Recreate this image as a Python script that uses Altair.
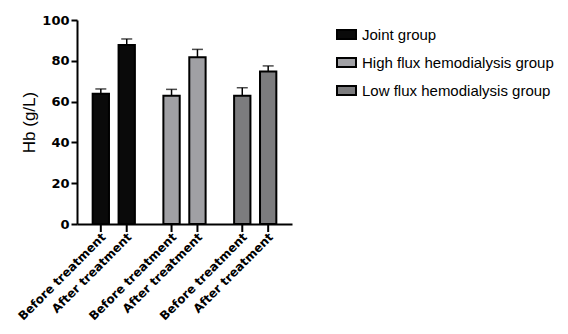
import altair as alt
import pandas as pd

groups = ["Joint group", "High flux hemodialysis group", "Low flux hemodialysis group"]
treatments = ["Before treatment", "After treatment"]
means = [63.9, 87.7, 62.9, 81.7, 62.9, 74.7]
errs = [2.3, 3.0, 3.1, 3.9, 3.9, 2.8]
colors = ["#0a0a0a", "#a0a0a4", "#7c7c7e"]

df = pd.DataFrame({
    "group": [g for g in groups for _ in treatments],
    "treatment": treatments * len(groups),
    "mean": means,
    "err": errs,
})
df["upper"] = df["mean"] + df["err"]

FONT = "Liberation Sans"
BOLD = "DejaVu Sans"

x = alt.X("group:N", sort=groups, title=None,
          scale=alt.Scale(paddingInner=0, paddingOuter=0.02),
          axis=alt.Axis(labels=False, ticks=False, grid=False))
xo = alt.XOffset("treatment:N", sort=treatments,
                 scale=alt.Scale(paddingInner=0.37, paddingOuter=0.55))
yscale = alt.Scale(domain=[0, 100], nice=False)
YT = "Hb (g/L)"

base = alt.Chart(df)

bars = base.mark_bar(stroke="black", strokeWidth=2).encode(
    x=x, xOffset=xo,
    y=alt.Y("mean:Q", scale=yscale, title=YT,
            axis=alt.Axis(values=[0, 20, 40, 60, 80, 100])),
    fill=alt.Fill("group:N", sort=groups,
                  scale=alt.Scale(domain=groups, range=colors),
                  legend=alt.Legend(title=None, orient="none", legendX=259, legendY=4,
                                    symbolType="M-1,-0.47H1V0.47H-1Z", symbolSize=361,
                                    symbolStrokeColor="black", symbolStrokeWidth=2,
                                    labelFont=FONT, labelFontSize=15, labelColor="black",
                                    labelLimit=400, rowPadding=9, labelOffset=5)),
)

whisker = base.mark_rule(color="black", strokeWidth=1.5).encode(
    x=x, xOffset=xo, y=alt.Y("mean:Q", scale=yscale, title=YT), y2="upper:Q")

cap = base.mark_tick(color="black", thickness=1.5, size=11, orient="horizontal").encode(
    x=x, xOffset=xo, y=alt.Y("upper:Q", scale=yscale, title=YT))

xticks = base.mark_rule(color="black", strokeWidth=2).encode(
    x=x, xOffset=xo, y=alt.value(204), y2=alt.value(212))

xlabels = base.mark_text(angle=315, align="right", baseline="middle", font=BOLD,
                         fontWeight="bold", fontSize=12, color="black", dx=4).encode(
    x=x, xOffset=xo, y=alt.value(218), text="treatment:N")

chart = alt.layer(bars, whisker, cap, xticks, xlabels).properties(
    width=215, height=204,
    autosize=alt.AutoSizeParams(type="none"),
    padding={"left": 69, "top": 12, "right": 268, "bottom": 102},
).configure_view(strokeWidth=0).configure_axis(
    domainColor="black", domainWidth=2, grid=False,
).configure_axisY(
    labelFont=BOLD, labelFontWeight="bold", labelFontSize=13, labelColor="black",
    labelPadding=2, ticks=True, tickSize=6, tickWidth=2, tickColor="black",
    titleFont=FONT, titleFontWeight="normal", titleFontSize=17, titleColor="black",
    titlePadding=3,
)

chart.save("out.html", embed_options={"renderer": "svg", "actions": False})
